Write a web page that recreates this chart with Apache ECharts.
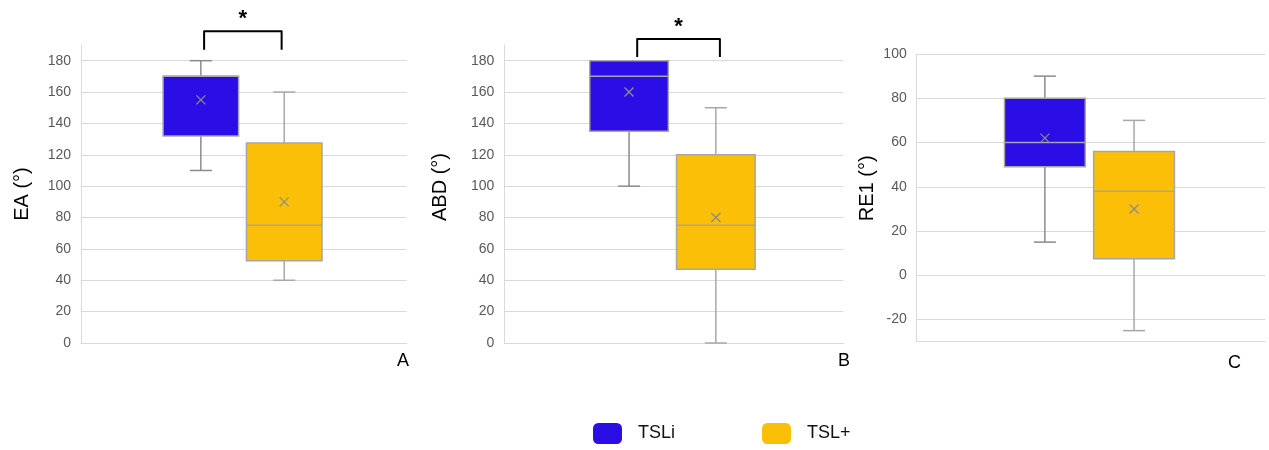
<!DOCTYPE html>
<html><head><meta charset="utf-8">
<script src="https://cdn.jsdelivr.net/npm/echarts@6/dist/echarts.min.js"></script>
<style>html,body{margin:0;padding:0;background:#fff}#c{width:1269px;height:450px}</style>
</head><body><div id="c"></div>
<script>
// ---- data ----
const seriesNames = ['TSLi', 'TSL+'];
const panelLetters = ['A', 'B', 'C'];
const axisTitles = ['EA (°)', 'ABD (°)', 'RE1 (°)'];
// each box: [min, Q1, median, Q3, max, mean]
const eaTSLi = [110, 132, 170, 170, 180, 155];
const eaTSLplus = [40, 52.5, 75, 127.5, 160, 90];
const abdTSLi = [100, 135, 170, 180, 180, 160];
const abdTSLplus = [0, 47, 75, 120, 150, 80];
const re1TSLi = [15, 49, 60, 80, 90, 62];
const re1TSLplus = [-25, 7.5, 38, 56, 70, 30];
const yMins = [0, 0, -30];
const yMaxs = [190, 190, 100];
const yStep = 20;
// significance brackets: [bottom value, top value, label]
const sigA = [187, 198.7, '*'];
const sigB = [182.4, 193.9, '*'];

// ---- styles / layout ----
const colors = ['#2B0DE5', '#FCBF07'];
const whiskerColors = ['#8A8A8A', '#A8A8A8'];
const FONT = 'Liberation Sans, Arial, sans-serif';
const NARROW = 'Liberation Sans Narrow, Arial Narrow, Liberation Sans, sans-serif';
const grids = [
  {left: 81, top: 45, width: 325.7, height: 298},
  {left: 504.3, top: 45, width: 339, height: 298},
  {left: 916.7, top: 54, width: 348.3, height: 287.7}
];
const boxOffsets = [-0.132, 0.124];
const boxWidthFrac = 0.232;
const nameGaps = [49, 54, 39];
const namePads = [[0, 0, 0, 0], [0, 0, 0, 14], [0, 0, 0, 19]];
const letterPos = [[397, 352], [838, 352], [1228, 354]];
const bracketX = [[-0.122, 0.116], [-0.108, 0.136]];

const panels = [[eaTSLi, eaTSLplus], [abdTSLi, abdTSLplus], [re1TSLi, re1TSLplus]];
const sigs = [sigA, sigB, null];

function boxRender(k) {
  return function (params, api) {
    const band = api.size([1, 0])[0];
    const cx = api.coord([0, 0])[0] + boxOffsets[k] * band;
    const hw = boxWidthFrac * band / 2;
    const Y = i => api.coord([0, api.value(i)])[1];
    const vmin = Y(1), q1 = Y(2), med = Y(3), q3 = Y(4), vmax = Y(5), mean = Y(6);
    const wc = whiskerColors[k];
    const cap = 11, m = 4.5;
    const ch = [];
    const ln = (x1, y1, x2, y2, c, w) => ({type: 'line', shape: {x1, y1, x2, y2}, style: {stroke: c, lineWidth: w}});
    if (Math.abs(vmax - q3) > 0.5) {
      ch.push(ln(cx, vmax, cx, q3, wc, 1.5));
      ch.push(ln(cx - cap, vmax, cx + cap, vmax, wc, 1.5));
    }
    if (Math.abs(vmin - q1) > 0.5) {
      ch.push(ln(cx, q1, cx, vmin, wc, 1.5));
      ch.push(ln(cx - cap, vmin, cx + cap, vmin, wc, 1.5));
    }
    ch.push({type: 'rect', shape: {x: cx - hw, y: q3, width: 2 * hw, height: q1 - q3},
      style: {fill: colors[k], stroke: '#A6A6A6', lineWidth: 1.5}});
    ch.push(ln(cx - hw, med, cx + hw, med, '#A6A6A6', 1.5));
    ch.push(ln(cx - m, mean - m, cx + m, mean + m, '#8C8C8C', 1.3));
    ch.push(ln(cx - m, mean + m, cx + m, mean - m, '#8C8C8C', 1.3));
    return {type: 'group', children: ch};
  };
}

function bracketRender(p) {
  return function (params, api) {
    const band = api.size([1, 0])[0];
    const c0 = api.coord([0, 0])[0];
    const x1 = c0 + bracketX[p][0] * band, x2 = c0 + bracketX[p][1] * band;
    const yb = api.coord([0, api.value(1)])[1];
    const yt = api.coord([0, api.value(2)])[1];
    return {type: 'group', children: [
      {type: 'polyline', shape: {points: [[x1, yb], [x1, yt], [x2, yt], [x2, yb]]},
        style: {stroke: '#000', lineWidth: 2, fill: null, lineJoin: 'round'}},
      {type: 'text', style: {x: (x1 + x2) / 2, y: yt - 12, text: sigs[p][2], fill: '#000',
        font: 'bold 22px ' + FONT, align: 'center', verticalAlign: 'middle'}}
    ]};
  };
}

const xAxis = [], yAxis = [], series = [];
panels.forEach((pair, p) => {
  xAxis.push({type: 'category', gridIndex: p, data: [''], boundaryGap: true,
    axisLine: {show: true, onZero: false, lineStyle: {color: '#D9D9D9', width: 1}},
    axisTick: {show: false}, axisLabel: {show: false}, splitLine: {show: false}});
  yAxis.push({type: 'value', gridIndex: p, min: yMins[p], max: yMaxs[p],
    minInterval: yStep, maxInterval: yStep,
    name: axisTitles[p], nameLocation: 'middle', nameGap: nameGaps[p],
    nameTextStyle: {fontSize: 20, color: '#000', fontFamily: FONT, padding: namePads[p]},
    axisLine: {show: true, lineStyle: {color: '#D9D9D9', width: 1}},
    axisTick: {show: false},
    axisLabel: {color: '#595959', fontSize: 14, fontFamily: FONT, margin: 10,
      showMinLabel: yMins[p] % yStep === 0, showMaxLabel: yMaxs[p] % yStep === 0},
    splitLine: {show: true, showMaxLine: yMaxs[p] % yStep === 0, lineStyle: {color: '#D9D9D9', width: 1}}});
  pair.forEach((vals, k) => {
    series.push({type: 'custom', name: seriesNames[k], xAxisIndex: p, yAxisIndex: p,
      itemStyle: {color: colors[k]}, renderItem: boxRender(k),
      encode: {x: 0, y: [1, 2, 3, 4, 5, 6]},
      data: [[0].concat(vals)], clip: false, z: 2 + k});
  });
  if (sigs[p]) {
    series.push({type: 'custom', name: 'sig' + p, xAxisIndex: p, yAxisIndex: p,
      renderItem: bracketRender(p), encode: {x: 0, y: [1, 2]},
      data: [[0, sigs[p][0], sigs[p][1]]], clip: false, silent: true, z: 5});
  }
});

const chart = echarts.init(document.getElementById('c'));
chart.setOption({
  animation: false,
  backgroundColor: '#fff',
  grid: grids,
  xAxis, yAxis, series,
  title: panelLetters.map((t, i) => ({text: t, left: letterPos[i][0], top: letterPos[i][1], padding: 0,
    textStyle: {fontSize: 18, fontWeight: 'normal', color: '#000', fontFamily: FONT}})),
  legend: seriesNames.map((n, i) => ({data: [n], left: [593, 762][i], top: 423, padding: 0,
    icon: 'roundRect', itemWidth: 29, itemHeight: 21, itemStyle: {borderWidth: 0},
    textStyle: {fontSize: 18, color: '#111', fontFamily: NARROW, padding: [0, 0, 0, 11]}}))
});
</script></body></html>
